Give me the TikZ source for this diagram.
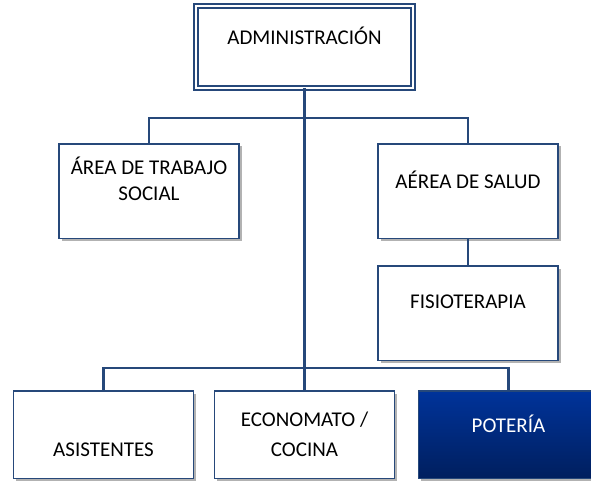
\documentclass[tikz,border=0pt]{standalone}
\usepackage{fontspec}
\setmainfont{Carlito}
\usepackage{xcolor}
\usepackage{tikz}
\usetikzlibrary{positioning,shadows}
\definecolor{linec}{RGB}{38,72,122}
\definecolor{potc}{RGB}{0,51,154}
\definecolor{potdark}{RGB}{0,31,94}
\tikzset{
  unit/.style  = {draw=linec, line width=1.6pt, fill=white, align=center,
                  inner sep=0pt, outer sep=0pt, minimum width=180pt, minimum height=94.5pt,
                  font=\fontsize{21}{26}\selectfont,
                  drop shadow={shadow xshift=2.5pt, shadow yshift=-2.5pt, fill=black!55, opacity=.55}},
  head/.style  = {unit, double=white, double distance=2.5pt, line width=1.5pt,
                  minimum width=217pt, minimum height=82pt},
  base/.style  = {unit, minimum height=87.5pt},
  dark/.style  = {base, top color=potc, bottom color=potdark, text=white},
  link/.style  = {draw=linec, line width=2.6pt},
}
\begin{document}
\begin{tikzpicture}[x=1pt, y=1pt]
\clip (0,0) rectangle (591,480);
\fill[white] (0,0) rectangle (591,480);

% ---- top: the direction ----
\node[head] (admin) at (304.5,433) {ADMINISTRACIÓN\\[-12pt]\strut};

% ---- middle: the two areas ----
\node[unit, below=56pt of admin.south, xshift=-155.5pt] (trabajo) {ÁREA DE TRABAJO\\SOCIAL\\[-8pt]\strut};
\node[unit, below=56pt of admin.south, xshift=163.5pt] (salud) {AÉREA DE SALUD\\[-10pt]\strut};
\node[unit, below=27.5pt of salud] (fisio) {FISIOTERAPIA\\[-10pt]\strut};

% ---- bottom: the services ----
\node[base, below=303pt of admin.south] (econ) {ECONOMATO /\\[4pt]COCINA};
\node[base, left=21pt of econ] (asist) {\strut\\ASISTENTES};
\node[dark, right=24pt of econ] (pot) {POTERÍA\\[-12pt]\strut};

% ---- connectors ----
\coordinate[below=30pt of admin.south] (upper);
\coordinate[above=23pt of econ.north] (lower);
\draw[link] (admin.south) -- (lower);
\draw[link] (trabajo.north) |- (upper) -| (salud.north);
\draw[link] (salud) -- (fisio);
\draw[link] (asist.north) |- (lower) -| (pot.north);
\draw[link] (lower) -- (econ.north);

\end{tikzpicture}
\end{document}
